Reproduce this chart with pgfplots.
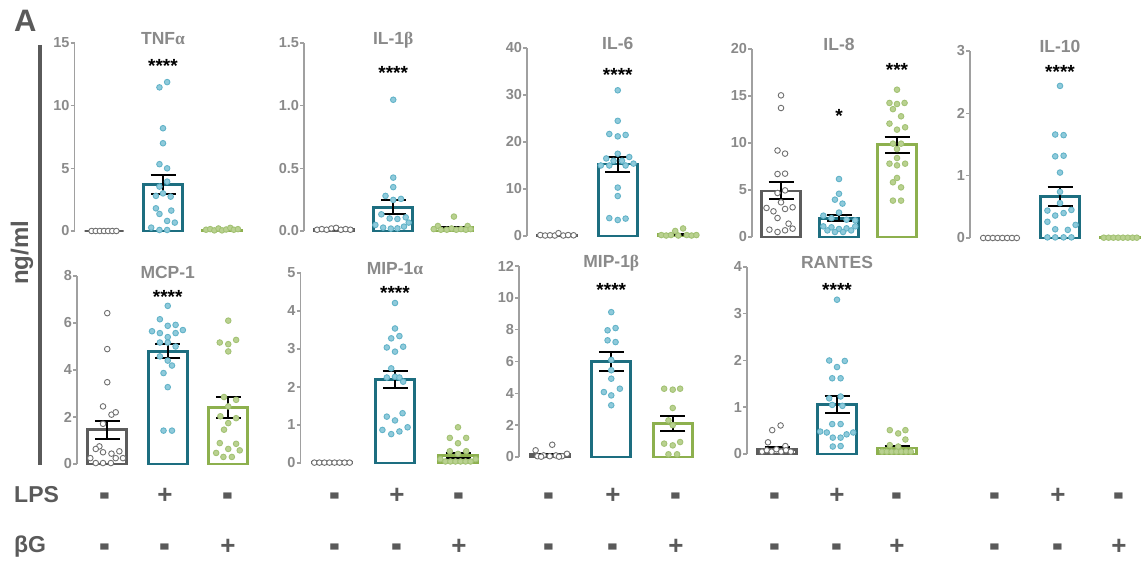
\documentclass[border=0pt]{standalone}
\usepackage{fontspec}
\setmainfont{Liberation Sans}
\newfontfamily\grk{Liberation Serif}
\usepackage{graphicx}
\usepackage{pgfplots}
\pgfplotsset{compat=1.18}

\definecolor{axgray}{HTML}{A0A0A0}
\definecolor{lblgray}{HTML}{8A8A8A}
\definecolor{ttlgray}{HTML}{8A8A8A}
\definecolor{dkgray}{HTML}{5A5A5A}
\definecolor{cW}{HTML}{5C5C5C}
\definecolor{ptWe}{HTML}{707070}
\definecolor{cB}{HTML}{1D6E80}
\definecolor{ptBf}{HTML}{8FCADB}
\definecolor{ptBe}{HTML}{62B3C8}
\definecolor{cG}{HTML}{8DB04E}
\definecolor{ptGf}{HTML}{B9D190}
\definecolor{ptGe}{HTML}{A3C274}

\pgfplotsset{
  panel/.style={scale only axis, clip=false, anchor=south west,
    axis x line=none, axis y line*=left,
    xmin=0.5, xmax=3.5, ymin=0, enlargelimits=false, xtick=\empty,
    axis line style={draw=axgray, line width=1.8pt},
    ytick style={draw=axgray, line width=1.5pt},
    tick align=outside, major tick length=4pt,
    yticklabel style={font=\fontsize{14.5}{14.5}\selectfont\bfseries, text=lblgray, xshift=2.5pt},
    /pgf/number format/assume math mode=true},
  barW/.style={ybar, bar width=39pt, bar shift=0pt, draw=cW, fill=white, line width=2.8pt},
  barB/.style={ybar, bar width=39pt, bar shift=0pt, draw=cB, fill=white, line width=2.8pt},
  barG/.style={ybar, bar width=39pt, bar shift=0pt, draw=cG, fill=white, line width=2.8pt},
  ptW/.style={only marks, mark=*, mark size=2.8pt, mark options={fill=white, draw=ptWe, line width=0.9pt}},
  ptB/.style={only marks, mark=*, mark size=2.8pt, mark options={fill=ptBf, draw=ptBe, line width=0.9pt}},
  ptG/.style={only marks, mark=*, mark size=2.8pt, mark options={fill=ptGf, draw=ptGe, line width=0.9pt}},
}
\tikzset{
  ttl/.style={anchor=base, yshift=-2pt, font=\fontsize{17.5}{17.5}\selectfont\bfseries, text=ttlgray},
  stars/.style={anchor=base, yshift=-11pt, font=\fontsize{19}{19}\selectfont\bfseries},
  sgn/.style={anchor=base, inner sep=0pt, font=\fontsize{26}{26}\selectfont\bfseries, text=dkgray},
}
% a heavier minus sign, centred on the plus sign's height
\newcommand\mn{\raisebox{-5.5pt}{\scalebox{1.25}[2.0]{-}}}
% mean +- SEM
\newcommand\eb[3]{\addplot[draw=none, mark=none, error bars/.cd, y dir=both, y explicit,
  error bar style={draw=black, line width=2pt},
  error mark options={rotate=90, mark size=12.5pt, draw=black, line width=2pt}]
  coordinates {(#1,#2) +- (0,#3)};}
\newcommand\bars[3]{%
  \addplot[barW] coordinates {(1,#1)};
  \addplot[barB] coordinates {(2,#2)};
  \addplot[barG] coordinates {(3,#3)};}

\begin{document}
\begin{tikzpicture}[x=1pt, y=1pt]
\useasboundingbox (0pt,0pt) rectangle (1142pt,561pt);

% ---------- TNF-alpha ----------
\begin{axis}[panel, at={(74.5pt,330pt)}, width=177pt, height=188pt, ymax=15, ytick={0,5,10,15}]
\bars{0}{3.7}{0.08}
\addplot[ptW] coordinates {(0.79,0)(0.86,0)(0.93,0)(1.0,0)(1.07,0)(1.14,0)(1.21,0)};
\addplot[ptB] coordinates {(1.94,11.46)(2.07,11.88)(2.0,8.2)(2.0,7.0)(1.94,5.33)(2.07,5.0)(2.07,3.94)(1.94,3.54)(2.0,3.0)(1.88,2.8)(2.13,2.74)(1.88,1.81)(2.14,1.63)(1.94,1.36)(2.07,0.8)(2.2,0.67)(1.8,0.27)(1.94,0.08)(2.07,0.08)};
\addplot[ptG] coordinates {(2.73,0.1)(2.8,0.15)(2.87,0.05)(2.94,0.2)(3.0,0.05)(3.07,0.12)(3.14,0.25)(3.2,0.1)(3.27,0.15)};
\eb{2}{3.7}{0.75}
\eb{3}{0.08}{0.02}
\node[ttl] at (axis cs:2,15) {TNF{\grk α}};
\node[stars] at (axis cs:2,13.5) {****};
\end{axis}

% ---------- IL-1beta ----------
\begin{axis}[panel, at={(304pt,330pt)}, width=178.5pt, height=188pt, ymax=1.5, ytick={0,0.5,1,1.5},
  yticklabel style={/pgf/number format/.cd, fixed, fixed zerofill, precision=1}]
\bars{0.012}{0.19}{0.025}
\addplot[ptW] coordinates {(0.72,0.01)(0.8,0.015)(0.88,0.01)(0.96,0.02)(1.04,0.025)(1.12,0.01)(1.2,0.015)(1.28,0.01)};
\addplot[ptB] coordinates {(2.0,1.047)(2.0,0.426)(2.0,0.35)(1.87,0.28)(2.13,0.256)(2.0,0.248)(1.8,0.133)(1.94,0.1)(2.07,0.096)(2.21,0.109)(1.7,0.048)(1.83,0.027)(1.96,0.019)(2.07,0.021)(2.18,0.035)(2.26,0.067)};
\addplot[ptG] coordinates {(3.02,0.115)(2.75,0.04)(3.25,0.04)(2.68,0.015)(2.8,0.01)(2.9,0.01)(2.98,0.02)(3.06,0.01)(3.14,0.015)(3.22,0.01)(3.3,0.015)};
\eb{1}{0.012}{0.003}
\eb{2}{0.19}{0.055}
\eb{3}{0.025}{0.006}
\node[ttl] at (axis cs:2,1.5) {IL-1{\grk β}};
\node[stars] at (axis cs:2,1.3) {****};
\end{axis}

% ---------- IL-6 ----------
\begin{axis}[panel, at={(527pt,325pt)}, width=181.5pt, height=188pt, ymax=40, ytick={0,10,20,30,40}]
\bars{0.2}{15.3}{0.3}
\addplot[ptW] coordinates {(0.72,0.2)(0.8,0.1)(0.88,0.15)(0.96,0.1)(1.02,0.6)(1.1,0.1)(1.18,0.2)(1.27,0.15)};
\addplot[ptB] coordinates {(2.0,31.0)(2.0,24.5)(1.86,21.7)(2.0,21.2)(2.13,21.5)(2.0,17.5)(1.81,16.5)(2.19,16.8)(1.93,16.0)(2.07,16.0)(1.72,15.0)(1.86,15.0)(2.13,15.0)(2.26,15.4)(2.0,10.3)(2.0,8.5)(1.86,3.8)(2.0,3.4)(2.13,3.7)};
\addplot[ptG] coordinates {(2.72,0.2)(2.8,0.1)(2.88,0.2)(2.95,1.07)(3.08,1.6)(3.0,0.1)(3.14,0.2)(3.22,0.1)(3.3,0.2)};
\eb{1}{0.2}{0.06}
\eb{2}{15.3}{1.6}
\eb{3}{0.3}{0.1}
\node[ttl] at (axis cs:2,40) {IL-6};
\node[stars] at (axis cs:2,35.3) {****};
\end{axis}

% ---------- IL-8 ----------
\begin{axis}[panel, at={(752pt,324pt)}, width=174pt, height=188pt, ymax=20, ytick={0,5,10,15,20}]
\bars{4.9}{2.0}{9.8}
\addplot[ptW] coordinates {(1.0,15.07)(1.0,13.72)(0.94,9.2)(1.07,8.87)(0.94,6.7)(1.07,6.74)(0.94,4.68)(1.07,4.96)(1.0,3.69)(0.75,3.09)(0.87,2.73)(1.07,2.98)(1.2,3.16)(0.94,2.02)(1.13,1.42)(0.8,0.78)(0.94,0.53)(1.07,0.71)(1.2,0.89)};
\addplot[ptB] coordinates {(2.0,6.17)(2.0,4.6)(1.93,3.97)(2.06,3.55)(2.0,2.6)(1.73,2.27)(1.87,2.0)(2.13,1.84)(2.28,1.77)(1.73,1.13)(1.87,1.03)(2.0,0.85)(2.13,0.92)(2.28,1.13)(1.8,0.7)(1.93,0.53)(2.07,0.53)(2.21,0.7)};
\addplot[ptG] coordinates {(3.0,15.67)(2.87,14.26)(3.0,14.15)(3.13,14.26)(2.93,13.6)(3.07,12.84)(2.87,12.06)(3.0,11.42)(3.14,11.67)(2.93,9.93)(3.07,9.93)(3.0,9.36)(3.0,8.4)(2.87,7.8)(3.0,7.62)(3.14,7.8)(3.0,6.28)(2.93,5.82)(3.07,5.28)(2.93,3.87)(3.07,3.87)};
\eb{1}{4.9}{0.9}
\eb{2}{2.0}{0.35}
\eb{3}{9.8}{0.85}
\node[ttl] at (axis cs:2,20) {IL-8};
\node[stars] at (axis cs:2,13.3) {*};
\node[stars] at (axis cs:3,18.2) {***};
\end{axis}

% ---------- IL-10 ----------
\begin{axis}[panel, at={(970pt,323pt)}, width=180pt, height=187pt, ymax=3, ytick={0,1,2,3}]
\bars{0}{0.67}{0.005}
\addplot[ptW] coordinates {(0.72,0)(0.8,0)(0.88,0)(0.96,0)(1.04,0)(1.12,0)(1.2,0)(1.28,0)};
\addplot[ptB] coordinates {(2.0,2.44)(1.92,1.66)(2.06,1.65)(1.92,1.31)(2.06,1.32)(2.0,1.05)(2.0,0.74)(2.0,0.56)(1.79,0.44)(1.92,0.36)(2.06,0.4)(2.19,0.45)(1.79,0.26)(2.26,0.21)(1.92,0.14)(2.13,0.13)(1.79,0.01)(1.92,0.01)(2.06,0.01)(2.19,0.01)};
\addplot[ptG] coordinates {(2.73,0.005)(2.81,0.005)(2.89,0.005)(2.97,0.005)(3.05,0.005)(3.13,0.005)(3.21,0.005)(3.28,0.005)};
\eb{2}{0.67}{0.155}
\eb{3}{0.005}{0.001}
\node[ttl] at (axis cs:2,3) {IL-10};
\node[stars] at (axis cs:2,2.73) {****};
\end{axis}

% ---------- MCP-1 ----------
\begin{axis}[panel, at={(77pt,97pt)}, width=181.5pt, height=188pt, ymax=8, ytick={0,2,4,6,8}]
\bars{1.46}{4.8}{2.4}
\addplot[ptW] coordinates {(1.0,6.42)(1.0,4.89)(1.0,3.48)(0.93,2.45)(1.07,2.1)(1.14,2.2)(0.93,1.71)(0.87,0.75)(0.81,0.64)(0.93,0.5)(1.07,0.44)(1.2,0.54)(0.72,0.25)(1.14,0.25)(1.26,0.25)(0.81,0.04)(0.93,0.04)(1.06,0.04)};
\addplot[ptB] coordinates {(2.0,6.73)(1.87,6.16)(2.0,5.88)(2.13,5.92)(1.74,5.65)(1.87,5.57)(2.0,5.4)(2.25,5.7)(2.13,5.57)(1.87,5.17)(2.0,5.17)(2.13,5.0)(1.87,4.58)(2.0,4.4)(2.07,4.19)(1.93,3.87)(2.0,3.27)(1.93,1.42)(2.07,1.42)};
\addplot[ptG] coordinates {(3.0,6.1)(2.86,5.17)(3.0,5.1)(3.13,5.28)(3.0,4.79)(2.93,2.85)(3.13,2.73)(3.0,2.45)(2.87,2.03)(3.13,1.95)(3.0,1.74)(2.93,1.46)(2.86,0.89)(3.13,0.86)(3.0,0.64)(2.8,0.47)(3.19,0.58)(2.92,0.3)(3.06,0.3)};
\eb{1}{1.46}{0.38}
\eb{2}{4.8}{0.31}
\eb{3}{2.4}{0.45}
\node[ttl] at (axis cs:2,8) {MCP-1};
\node[stars] at (axis cs:2,7.28) {****};
\end{axis}

% ---------- MIP-1alpha ----------
\begin{axis}[panel, at={(300.5pt,98pt)}, width=189pt, height=190pt, ymax=5, ytick={0,1,2,3,4,5}]
\bars{0.01}{2.2}{0.2}
\addplot[ptW] coordinates {(0.72,0.01)(0.8,0.01)(0.88,0.01)(0.96,0.01)(1.04,0.01)(1.12,0.01)(1.2,0.01)(1.28,0.01)};
\addplot[ptB] coordinates {(2.0,4.21)(2.0,3.54)(1.94,3.28)(2.07,3.34)(1.87,3.04)(2.13,3.06)(2.0,2.93)(1.94,2.49)(2.0,2.27)(1.87,2.25)(2.07,2.25)(2.13,2.14)(1.87,1.22)(2.12,1.31)(2.0,1.12)(1.8,0.87)(1.94,0.76)(2.07,0.83)(2.2,0.94)};
\addplot[ptG] coordinates {(3.0,0.94)(2.87,0.66)(3.13,0.66)(3.0,0.52)(2.87,0.31)(3.13,0.31)(3.0,0.24)(2.72,0.1)(2.8,0.04)(2.88,0.04)(2.96,0.04)(3.04,0.04)(3.12,0.04)(3.2,0.04)(3.28,0.1)};
\eb{1}{0.01}{0.003}
\eb{2}{2.2}{0.23}
\eb{3}{0.2}{0.06}
\node[ttl] at (axis cs:2,5) {MIP-1{\grk α}};
\node[stars] at (axis cs:2,4.6) {****};
\end{axis}

% ---------- MIP-1beta ----------
\begin{axis}[panel, at={(519pt,104pt)}, width=184.5pt, height=191pt, ymax=12, ytick={0,2,4,6,8,10,12}]
\bars{0.15}{6.0}{2.1}
\addplot[ptW] coordinates {(0.77,0.42)(1.04,0.77)(1.28,0.2)(0.8,0.05)(0.9,0.1)(1.0,0.05)(1.1,0.1)(1.2,0.05)(0.86,0.02)(1.15,0.02)};
\addplot[ptB] coordinates {(2.0,9.1)(1.94,7.96)(2.07,8.1)(1.94,7.33)(2.07,7.22)(2.0,6.1)(2.0,5.45)(2.0,4.92)(1.88,4.08)(2.14,4.29)(2.0,3.87)(2.0,3.25)};
\addplot[ptG] coordinates {(2.86,4.29)(3.0,4.23)(3.12,4.29)(3.0,3.08)(2.93,2.3)(3.0,2.0)(2.86,0.84)(3.0,0.73)(3.12,0.94)(2.93,0.17)(3.07,0.17)};
\eb{1}{0.15}{0.06}
\eb{2}{6.0}{0.57}
\eb{3}{2.1}{0.47}
\node[ttl] at (axis cs:2,12) {MIP-1{\grk β}};
\node[stars] at (axis cs:2,10.75) {****};
\end{axis}

% ---------- RANTES ----------
\begin{axis}[panel, at={(747pt,107pt)}, width=180pt, height=187pt, ymax=4, ytick={0,1,2,3,4}]
\bars{0.1}{1.06}{0.13}
\addplot[ptW] coordinates {(0.92,0.51)(1.06,0.61)(0.85,0.25)(1.14,0.17)(0.75,0.05)(0.83,0.08)(0.91,0.05)(0.99,0.1)(1.07,0.05)(1.15,0.08)(1.23,0.05)};
\addplot[ptB] coordinates {(2.0,3.3)(1.87,2.0)(2.13,1.99)(2.0,1.86)(1.92,1.62)(2.06,1.62)(1.87,1.19)(2.06,1.23)(1.92,1.05)(2.09,1.03)(1.92,0.64)(2.06,0.64)(1.72,0.48)(1.83,0.46)(2.16,0.42)(2.27,0.46)(1.93,0.35)(2.06,0.35)(1.93,0.16)(2.06,0.17)};
\addplot[ptG] coordinates {(2.88,0.51)(3.14,0.51)(3.02,0.44)(3.14,0.31)(2.88,0.19)(3.02,0.16)(2.75,0.05)(2.83,0.05)(2.91,0.05)(2.99,0.05)(3.07,0.05)(3.15,0.05)(3.23,0.05)};
\eb{1}{0.1}{0.04}
\eb{2}{1.06}{0.18}
\eb{3}{0.13}{0.04}
\node[ttl] at (axis cs:2,4) {RANTES};
\node[stars] at (axis cs:2,3.6) {****};
\end{axis}

% ---------- panel letter, unit label ----------
\node[anchor=base west, font=\fontsize{31}{31}\selectfont\bfseries, text=dkgray, inner sep=0pt] at (14pt,529pt) {A};
\draw[dkgray, line width=3.5pt] (40pt,516pt) -- (40pt,96pt);
\node[rotate=90, font=\fontsize{24}{24}\selectfont\bfseries, text=dkgray] at (22pt,308pt) {ng/ml};

% ---------- treatment rows ----------
\node[anchor=base west, font=\fontsize{23}{23}\selectfont\bfseries, text=dkgray, inner sep=0pt] at (14pt,58pt) {LPS};
\node[anchor=base west, font=\fontsize{23}{23}\selectfont\bfseries, text=dkgray, inner sep=0pt] at (14pt,8pt) {βG};
\foreach \a/\b/\c in {105/165/228, 335/397/459, 549/613/676, 775/837/897, 995/1058/1119} {
  \node[sgn] at (\a pt,57pt) {\mn};
  \node[sgn] at (\b pt,57pt) {+};
  \node[sgn] at (\c pt,57pt) {\mn};
  \node[sgn] at (\a pt,6pt) {\mn};
  \node[sgn] at (\b pt,6pt) {\mn};
  \node[sgn] at (\c pt,6pt) {+};
}
\end{tikzpicture}
\end{document}
